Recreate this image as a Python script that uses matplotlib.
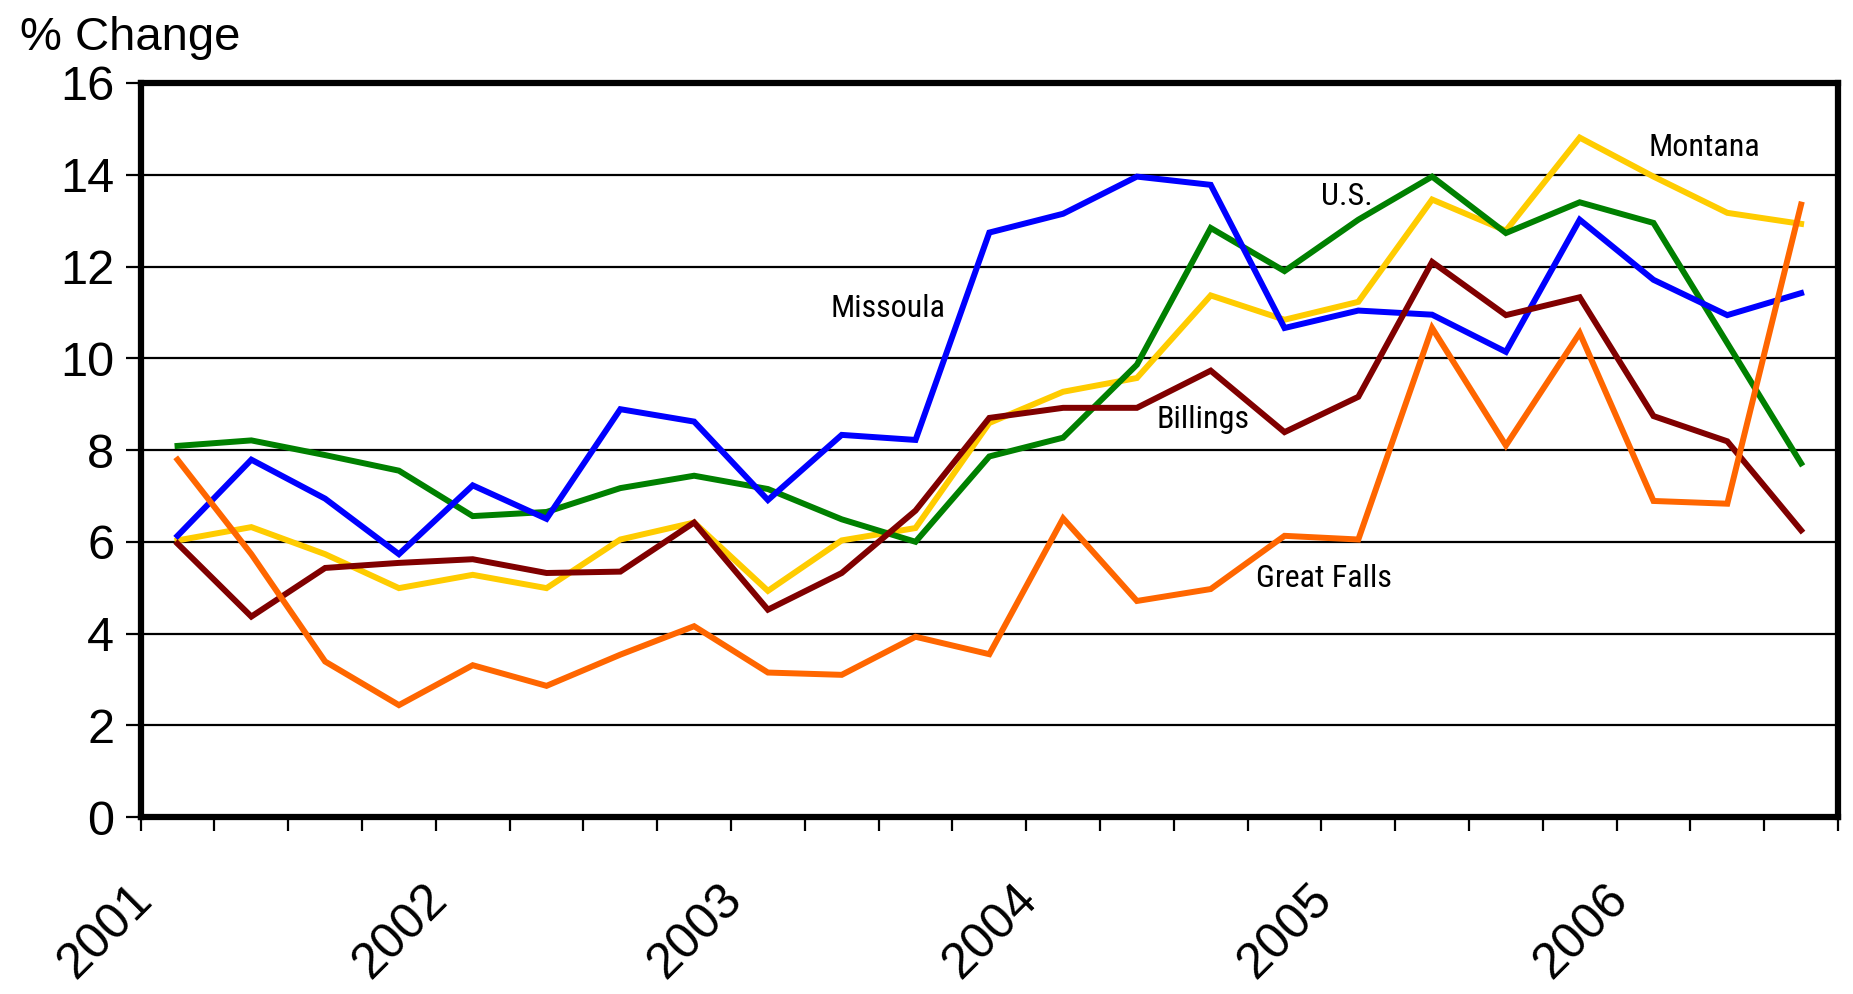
import matplotlib.pyplot as plt
import matplotlib.transforms as mtransforms
import numpy as np

plt.rcParams['font.family'] = ['Liberation Sans', 'DejaVu Sans']

# Quarterly % change, 2001 Q1 - 2006 Q3
missoula = [6.13, 7.79, 6.94, 5.73, 7.23, 6.50, 8.89, 8.62, 6.91, 8.33, 8.22, 12.74,
            13.15, 13.96, 13.78, 10.66, 11.04, 10.95, 10.14, 13.02, 11.71, 10.94, 11.42]
us = [8.09, 8.21, 7.89, 7.55, 6.56, 6.65, 7.17, 7.44, 7.15, 6.49, 6.00, 7.86,
      8.27, 9.86, 12.84, 11.90, 13.02, 13.96, 12.73, 13.40, 12.95, 10.33, 7.71]
montana = [6.03, 6.32, 5.73, 4.99, 5.28, 4.99, 6.05, 6.42, 4.93, 6.03, 6.30, 8.59,
           9.27, 9.57, 11.37, 10.84, 11.23, 13.46, 12.78, 14.81, 13.96, 13.17, 12.93]
billings = [5.96, 4.37, 5.43, 5.54, 5.62, 5.32, 5.35, 6.42, 4.52, 5.32, 6.68, 8.70,
            8.92, 8.92, 9.73, 8.39, 9.16, 12.10, 10.94, 11.33, 8.74, 8.19, 6.25]
great_falls = [7.79, 5.73, 3.39, 2.44, 3.31, 2.86, 3.54, 4.16, 3.15, 3.10, 3.93, 3.55,
               6.51, 4.71, 4.97, 6.13, 6.05, 10.66, 8.10, 10.55, 6.89, 6.83, 13.35]

years = ['2001', '2002', '2003', '2004', '2005', '2006']

series = [
    ('Missoula', missoula, '#0000FF', (10.13, 11.09)),
    ('U.S.', us, '#008000', (16.34, 13.53)),
    ('Montana', montana, '#FFCC00', (21.19, 14.59)),
    ('Billings', billings, '#800000', (14.40, 8.67)),
    ('Great Falls', great_falls, '#FF6600', (16.03, 5.20)),
]
# draw order (bottom to top)
order = ['Montana', 'U.S.', 'Missoula', 'Billings', 'Great Falls']

fig = plt.figure(figsize=(18.53, 9.94), dpi=100)
ax = fig.add_axes([0.0759, 0.178, 0.9160, 0.7385])

x = np.arange(len(missoula)) + 0.5
lookup = {s[0]: s for s in series}
for name in order:
    _, vals, color, _ = lookup[name]
    ax.plot(x, vals, color=color, lw=4.3, solid_joinstyle='miter', zorder=3)

for name, vals, color, (lx, ly) in series:
    ax.text(lx, ly, name, ha='center', va='center', fontsize=23,
            family=['Roboto Condensed', 'Liberation Sans', 'DejaVu Sans'], zorder=4)

ax.set_xlim(0, 23)
ax.set_ylim(0, 16)
ax.set_yticks(range(0, 17, 2))
ax.yaxis.grid(True, color='black', lw=1.6)
ax.set_axisbelow(True)

ax.set_xticks(range(0, 24))
ax.set_xticklabels([years[i // 4] if i % 4 == 0 and i // 4 < len(years) else ''
                    for i in range(24)])
ax.tick_params(axis='x', direction='out', length=10, width=1.6, pad=44,
               labelsize=36)
ax.tick_params(axis='y', direction='out', length=11, width=1.6, pad=8,
               labelsize=35)

# nudge year labels slightly right
shift = mtransforms.ScaledTranslation(0.04, 0, fig.dpi_scale_trans)
for lbl in ax.get_xticklabels():
    lbl.set_rotation(45)
    lbl.set_rotation_mode('anchor')
    lbl.set_ha('right')
    lbl.set_va('center')
    lbl.set_transform(lbl.get_transform() + shift)

for sp in ax.spines.values():
    sp.set_linewidth(4.5)
    sp.set_color('black')

fig.text(0.011, 0.962, '% Change', fontsize=34, va='center', ha='left')

fig.savefig('out.png', dpi=100)
